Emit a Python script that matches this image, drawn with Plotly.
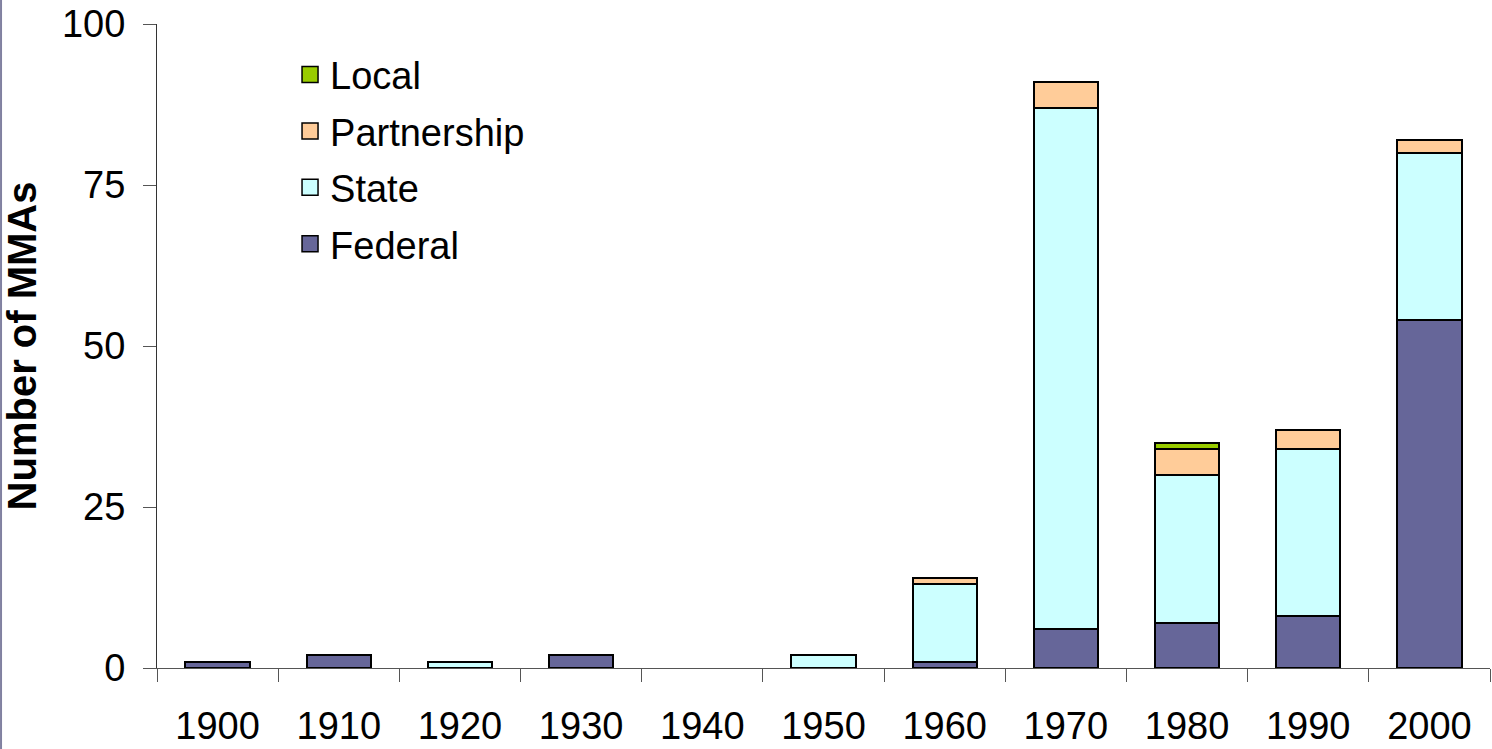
import plotly.graph_objects as go

decades = ["1900", "1910", "1920", "1930", "1940", "1950", "1960", "1970", "1980", "1990", "2000"]
federal = [1, 2, 0, 2, 0, 0, 1, 6, 7, 8, 54]
state = [0, 0, 1, 0, 0, 2, 12, 81, 23, 26, 26]
partnership = [0, 0, 0, 0, 0, 0, 1, 4, 4, 3, 2]
local = [0, 0, 0, 0, 0, 0, 0, 0, 1, 0, 0]

series = [
    ("Federal", federal, "#666699"),
    ("State", state, "#CCFFFF"),
    ("Partnership", partnership, "#FFCC99"),
    ("Local", local, "#99CC00"),
]

fig = go.Figure()
for name, vals, color in series:
    fig.add_trace(go.Bar(
        x=decades, y=[v if v else None for v in vals], name=name,
        showlegend=False,
        marker=dict(color=color, line=dict(color="black", width=2)),
        width=0.53,
    ))
# legend entries with larger square swatches (top to bottom: Local ... Federal)
for name, vals, color in reversed(series):
    fig.add_trace(go.Scatter(
        x=[None], y=[None], mode="markers", name=name, legendgroup=name,
        marker=dict(symbol="square", size=21, color=color, line=dict(color="black", width=1.5)),
    ))

fig.update_layout(
    barmode="stack",
    width=1492, height=749,
    margin=dict(l=157, r=2, t=24, b=81, autoexpand=False),
    plot_bgcolor="white", paper_bgcolor="white",
    font=dict(family="Liberation Sans, Arial, sans-serif", size=38, color="black"),
    legend=dict(
        x=0.0998, y=0.97, xanchor="left", yanchor="top",
        traceorder="grouped", tracegroupgap=4,
        font=dict(size=38), bgcolor="rgba(0,0,0,0)",
    ),
    xaxis=dict(
        type="category", tickson="boundaries", ticks="outside", ticklen=13,
        tickcolor="#555", showline=True, linecolor="#555", linewidth=1,
        showgrid=False, tickfont=dict(size=38), ticklabelstandoff=24, automargin=False,
    ),
    yaxis=dict(
        range=[0, 100], tickvals=[0, 25, 50, 75, 100], ticks="outside", ticklen=13,
        tickcolor="#555", showline=True, linecolor="#333", linewidth=1,
        showgrid=False, zeroline=False, tickfont=dict(size=38), ticklabelstandoff=10,
        automargin=False,
        title=dict(text="<b>Number of MMAs</b>", font=dict(size=40), standoff=16),
    ),
    shapes=[dict(type="line", xref="paper", yref="paper", x0=-0.1170, x1=-0.1170,
                 y0=-0.2, y1=1.1, line=dict(color="#8080A0", width=2))],
)

fig.write_html("out.html", config={"displayModeBar": False},
               post_script="document.body.style.margin='0';")
